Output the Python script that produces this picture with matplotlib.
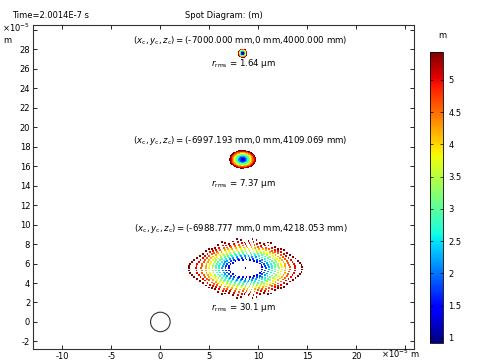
import numpy as np
import matplotlib
matplotlib.use('Agg')
from matplotlib import pyplot as plt
from matplotlib.patches import Circle

# spot diagram data (units of 1e-5 m)
spot_cx = [8.4, 8.4, 8.7]
spot_cy = [27.6, 16.7, 5.5]
spot_ax = [0.36, 1.25, 5.00]     # half-width of the spot
spot_ay = [0.36, 0.85, 2.65]     # half-height of the spot
spot_hole = [0.0, 0.0, 0.28]     # central gap
spot_ears = [0.0, 0.0, 0.16]     # outer rays pushed out at the sides
spot_streak = [0.0, 0.0, 0.18]   # outer rays pushed out at top/bottom
spot_labels = [
    r'$(x_{\rm c}, y_{\rm c}, z_{\rm c}) = ($-7000.000 mm,0 mm,4000.000 mm)',
    r'$(x_{\rm c}, y_{\rm c}, z_{\rm c}) = ($-6997.193 mm,0 mm,4109.069 mm)',
    r'$(x_{\rm c}, y_{\rm c}, z_{\rm c}) = ($-6988.777 mm,0 mm,4218.053 mm)',
]
label_y = [28.9, 18.6, 9.6]
rms_text = ['1.64', '7.37', '30.1']
rms_y = [26.5, 14.2, 1.5]
n_rings = 11
rays_base, rays_step = 22, 5     # rays on ring k: base + step*k
cmin, cmax = 0.92, 5.43

xticks = [-10, -5, 0, 5, 10, 15, 20, 25]
yticks = list(range(-2, 31, 2))
cticks = [1, 1.5, 2, 2.5, 3, 3.5, 4, 4.5, 5]

plt.rcParams['font.family'] = ['DejaVu Sans']
plt.rcParams['font.size'] = 6

fig = plt.figure(figsize=(4.82, 3.61), dpi=100)
ax = fig.add_axes([0.0685, 0.0332, 0.7905, 0.8975])
cax = fig.add_axes([0.892, 0.0499, 0.027, 0.806])

# polar ray grid in the pupil
rho_list, th_list = [0.0], [0.0]
for k in range(1, n_rings + 1):
    nk = rays_base + rays_step * k
    for m in range(nk):
        rho_list.append(k / n_rings)
        th_list.append(2 * np.pi * (m + 0.5 * (k % 2)) / nk)
rho = np.array(rho_list)
th = np.array(th_list)
order = np.argsort(-rho, kind='stable')
rho, th = rho[order], th[order]
cval = 1 + 4.4 * rho

for cx, cy, sx_, sy_, h, e1, e2 in zip(spot_cx, spot_cy, spot_ax, spot_ay,
                                       spot_hole, spot_ears, spot_streak):
    rr = np.where(rho > 0, h + (1 - h) * rho, 0)
    xs = cx + sx_ * np.cos(th) * (rr + e1 * rho ** 8 * np.cos(th) ** 8)
    ys = cy + sy_ * np.sin(th) * (rr + e2 * rho ** 6 * np.cos(9 * th) ** 2
                                  * np.abs(np.sin(th)))
    sc = ax.scatter(xs, ys, c=cval, cmap='jet', vmin=cmin, vmax=cmax,
                    s=1.8, linewidths=0, marker='s')

for lab, ly, rt, ry in zip(spot_labels, label_y, rms_text, rms_y):
    ax.text(8.2, ly, lab, ha='center', va='center', fontsize=6.2)
    ax.text(8.5, ry, r'$r_{\rm rms}$ = ' + rt + ' µm', ha='center',
            va='center', fontsize=6.2)

ax.add_patch(Circle((0, 0), 1.0, fill=False, edgecolor='#333333', lw=0.8))

ax.set_xlim(-13, 25.9)
ax.set_ylim(-2.78, 30.5)
ax.set_xticks(xticks)
ax.set_xticklabels([str(t) for t in xticks[:-1]] + [''])
ax.set_yticks(yticks)
ax.set_yticklabels([str(t) for t in yticks[:-1]] + [''])
ax.tick_params(direction='in', top=True, right=True, length=3, width=0.6,
               labelsize=6, pad=2)
for sp in ax.spines.values():
    sp.set_linewidth(0.8)
    sp.set_color('#333333')

ax.set_title('Spot Diagram: (m)', fontsize=6, pad=5)
fig.text(0.025, 0.957, 'Time=2.0014E-7 s', fontsize=6, va='center')
fig.text(0.005, 0.922, r'×10$^{-5}$', fontsize=6, va='center')
fig.text(0.007, 0.887, 'm', fontsize=6, va='center')
fig.text(0.79, 0.02, r'×10$^{-5}$ m', fontsize=6, va='center')

cb = fig.colorbar(sc, cax=cax)
cb.set_ticks(cticks)
cb.set_ticklabels([f'{t:g}' for t in cticks])
cax.tick_params(direction='in', length=2, width=0.5, labelsize=6, left=True,
                pad=4)
cb.outline.set_linewidth(0.6)
fig.text(0.918, 0.903, 'm', fontsize=6, ha='center', va='center')

fig.savefig('out.png', dpi=100)
